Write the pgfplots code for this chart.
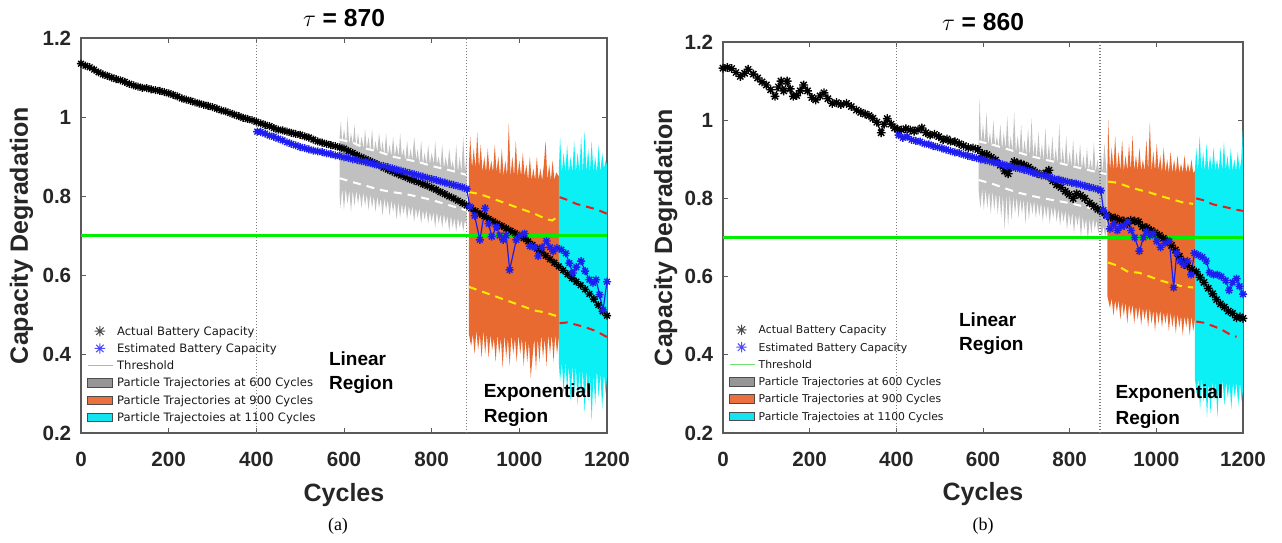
\documentclass[border=0pt]{standalone}
\usepackage{fontspec}
\setmainfont{Liberation Sans}
\newfontfamily\legfont{DejaVu Sans}
\newfontfamily\capfont{Liberation Serif}
\usepackage{pgfplots}
\pgfplotsset{compat=1.18}

\definecolor{bandgray}{RGB}{192,192,192}
\definecolor{bandorange}{RGB}{232,106,48}
\definecolor{bandcyan}{RGB}{10,240,245}
\definecolor{thrgreen}{RGB}{0,238,0}
\definecolor{dashyellow}{RGB}{255,235,0}
\definecolor{dashred}{RGB}{235,25,25}
\definecolor{boxgray}{RGB}{90,90,90}
\definecolor{dotgray}{RGB}{125,125,125}
\definecolor{estblue}{RGB}{30,30,240}
\definecolor{leggray}{RGB}{150,150,150}
\definecolor{legorange}{RGB}{236,112,62}
\definecolor{legcyan}{RGB}{20,228,240}
\definecolor{leggreen}{RGB}{110,225,110}

% MATLAB-like '*' marker
\pgfdeclareplotmark{mstar}{%
  \pgfpathmoveto{\pgfqpoint{-\pgfplotmarksize}{0pt}}\pgfpathlineto{\pgfqpoint{\pgfplotmarksize}{0pt}}%
  \pgfpathmoveto{\pgfqpoint{0pt}{-\pgfplotmarksize}}\pgfpathlineto{\pgfqpoint{0pt}{\pgfplotmarksize}}%
  \pgfpathmoveto{\pgfqpoint{-0.707\pgfplotmarksize}{-0.707\pgfplotmarksize}}\pgfpathlineto{\pgfqpoint{0.707\pgfplotmarksize}{0.707\pgfplotmarksize}}%
  \pgfpathmoveto{\pgfqpoint{-0.707\pgfplotmarksize}{0.707\pgfplotmarksize}}\pgfpathlineto{\pgfqpoint{0.707\pgfplotmarksize}{-0.707\pgfplotmarksize}}%
  \pgfusepathqstroke}

\newcommand{\regfont}{\fontsize{9.5}{11}\bfseries\selectfont}

\pgfplotsset{
  panel/.style={
    scale only axis, clip=false, anchor=south west,
    xmin=0, xmax=1200, ymin=0.2, ymax=1.2,
    xtick={0,200,400,600,800,1000,1200},
    ytick={0.2,0.4,0.6,0.8,1,1.2},
    /pgf/number format/1000 sep={},
    /pgf/number format/assume math mode=true,
    tick label style={font=\fontsize{10.3}{12}\bfseries\selectfont, text=black!85},
    yticklabel style={inner sep=0pt, xshift=-4.7pt},
    xticklabel style={inner sep=0pt, yshift=-9.6pt},
    tick align=inside, major tick length=2.5pt,
    every tick/.style={boxgray, line width=0.5pt},
    axis line style={boxgray, line width=0.6pt},
    xlabel={Cycles}, ylabel={Capacity Degradation},
    label style={font=\fontsize{12.5}{14}\bfseries\selectfont, text=black!85},
    xlabel style={at={(axis description cs:0.5,0)}, anchor=base},
    ylabel style={anchor=base},
    every axis title shift=0pt,
    title style={at={(axis description cs:0.5,1)}, anchor=base, font=\fontsize{12.3}{14}\bfseries\selectfont},
    legend style={draw=none, fill=none, inner sep=0pt, outer sep=0pt, anchor=north west,
      row sep=1.55pt, column sep=0.7pt, text=black!90,
      nodes={inner sep=0.8pt, text height=4.3pt, text depth=1.2pt}},
    legend cell align=left,
  },
  band/.style={draw=none, forget plot},
  dash/.style={line width=1pt, dash pattern=on 4pt off 3pt, forget plot},
  actual/.style={black, line width=0.6pt, mark=mstar, mark options={line width=0.7pt}, forget plot},
  estim/.style={estblue, line width=0.6pt, mark=mstar, mark options={line width=0.7pt}, forget plot},
  vdot/.style={dotgray, line width=0.6pt, dash pattern=on 0.5pt off 1pt, forget plot},
  thr/.style={thrgreen, line width=1.6pt, forget plot},
  legact/.style={legend image code/.code={\draw[black!70, line width=0.5pt, mark=mstar, mark size=2.6pt] plot coordinates {(6.25pt,0.4pt)};}},
  legest/.style={legend image code/.code={\draw[blue!70, line width=0.5pt, mark=mstar, mark size=2.6pt] plot coordinates {(6.25pt,0.4pt)};}},
  legthr/.style={legend image code/.code={\draw[leggreen, line width=0.7pt] (0.5pt,0.4pt) -- (13pt,0.4pt);}},
  leggr/.style={legend image code/.code={\draw[draw=black!70, fill=leggray, line width=0.4pt] (0pt,-1.7pt) rectangle (12.5pt,2.5pt);}},
  legor/.style={legend image code/.code={\draw[draw=black!70, fill=legorange, line width=0.4pt] (0pt,-1.7pt) rectangle (12.5pt,2.5pt);}},
  legcy/.style={legend image code/.code={\draw[draw=black!70, fill=legcyan, line width=0.4pt] (0pt,-1.7pt) rectangle (12.5pt,2.5pt);}},
}

\newcommand{\legendset}{%
  \addlegendimage{legact}
  \addlegendentry{Actual Battery Capacity}
  \addlegendimage{legest}
  \addlegendentry{Estimated Battery Capacity}
  \addlegendimage{legthr}
  \addlegendentry{Threshold}
  \addlegendimage{leggr}
  \addlegendentry{Particle Trajectories at 600 Cycles}
  \addlegendimage{legor}
  \addlegendentry{Particle Trajectories at 900 Cycles}
  \addlegendimage{legcy}
  \addlegendentry{Particle Trajectoies at 1100 Cycles}
}

\begin{document}
\begin{tikzpicture}
\useasboundingbox (0,0) rectangle (641pt,271pt);

% ---------------- (a) tau = 870 ----------------
\begin{axis}[panel, at={(40.5pt,54.5pt)}, width=263pt, height=197.5pt,
  title={$\tau$ = 870}, title style={yshift=6pt},
  xlabel style={yshift=-34pt},
  ylabel style={at={(axis description cs:-0.1008,0.5)}},
  legend style={at={(axis description cs:0.0114,0.2737)}, font=\legfont\fontsize{5.8}{7}\selectfont}]
\legendset

% particle trajectories at 600 cycles
\addplot[band, fill=bandgray] coordinates {
(590,0.95)(593,0.99)(596,0.93)(600,0.97)(605,0.93)(608,1.00)(612,0.93)(616,0.96)(620,0.93)(624,0.98)
(628,0.92)(632,0.96)(636,0.92)(640,0.95)(645,0.92)(648,0.97)(652,0.92)(656,0.95)(660,0.91)(664,0.97)
(668,0.91)(672,0.94)(676,0.91)(680,0.96)(685,0.91)(688,0.94)(692,0.90)(696,0.96)(700,0.90)(704,0.93)
(708,0.90)(712,0.95)(716,0.90)(720,0.93)(725,0.90)(728,0.96)(732,0.90)(736,0.92)(740,0.89)(744,0.94)
(748,0.89)(752,0.92)(756,0.89)(760,0.95)(765,0.89)(768,0.92)(772,0.88)(776,0.94)(780,0.88)(784,0.91)
(788,0.88)(792,0.93)(796,0.88)(800,0.91)(805,0.88)(808,0.94)(812,0.88)(816,0.90)(820,0.87)(824,0.93)
(828,0.87)(832,0.90)(836,0.87)(840,0.92)(845,0.87)(848,0.89)(852,0.86)(856,0.93)(860,0.86)(864,0.90)
(868,0.86)(872,0.95)(876,0.86)(880,0.91)
(880,0.72)(876,0.74)(872,0.71)(868,0.74)(864,0.72)(860,0.745)(856,0.71)(852,0.745)(848,0.72)(844,0.75)
(840,0.71)(836,0.75)(832,0.73)(828,0.755)(824,0.72)(820,0.755)(816,0.73)(812,0.76)(808,0.72)(804,0.76)
(800,0.735)(796,0.76)(792,0.73)(788,0.765)(784,0.74)(780,0.765)(776,0.73)(772,0.77)(768,0.745)(764,0.77)
(760,0.735)(756,0.775)(752,0.75)(748,0.775)(744,0.74)(740,0.78)(736,0.755)(732,0.78)(728,0.745)(724,0.785)
(720,0.74)(716,0.785)(712,0.76)(708,0.79)(704,0.75)(700,0.79)(696,0.765)(692,0.795)(688,0.75)(684,0.795)
(680,0.77)(676,0.80)(672,0.76)(668,0.80)(664,0.77)(660,0.805)(656,0.765)(652,0.805)(648,0.775)(644,0.81)
(640,0.77)(636,0.81)(632,0.78)(628,0.815)(624,0.775)(620,0.815)(616,0.76)(612,0.815)(608,0.78)(604,0.82)
(600,0.765)(596,0.82)(592,0.77)(590,0.80)};
% particle trajectories at 900 cycles
\addplot[band, fill=bandorange] coordinates {
(885,0.88)(888,0.95)(892,0.87)(896,0.92)(900,0.87)(904,0.96)(908,0.87)(912,0.93)(916,0.86)(920,0.90)
(924,0.86)(928,0.92)(932,0.86)(936,0.89)(940,0.86)(944,0.93)(948,0.86)(952,0.90)(956,0.85)(960,0.92)
(964,0.85)(968,0.89)(972,0.85)(976,0.985)(980,0.85)(984,0.90)(988,0.85)(992,0.94)(996,0.85)(1000,0.89)
(1004,0.85)(1008,0.91)(1012,0.85)(1016,0.88)(1020,0.84)(1024,0.90)(1028,0.84)(1032,0.87)(1036,0.84)(1040,0.90)
(1044,0.84)(1048,0.87)(1052,0.84)(1056,0.88)(1060,0.94)(1064,0.84)(1068,0.88)(1072,0.84)(1076,0.89)(1080,0.84)
(1084,0.86)(1090,0.85)
(1090,0.44)(1086,0.40)(1082,0.45)(1078,0.38)(1074,0.45)(1070,0.40)(1066,0.45)(1062,0.37)(1058,0.44)(1054,0.39)
(1050,0.45)(1046,0.38)(1042,0.44)(1038,0.36)(1034,0.44)(1030,0.39)(1026,0.34)(1022,0.43)(1018,0.38)(1014,0.44)
(1010,0.37)(1006,0.44)(1002,0.40)(998,0.45)(994,0.38)(990,0.44)(986,0.40)(982,0.45)(978,0.37)(974,0.44)
(970,0.39)(966,0.45)(962,0.365)(958,0.44)(954,0.40)(950,0.45)(946,0.38)(942,0.44)(938,0.41)(934,0.45)
(930,0.39)(926,0.45)(922,0.40)(918,0.46)(914,0.39)(910,0.45)(906,0.41)(902,0.46)(898,0.40)(894,0.45)
(890,0.42)(885,0.45)};
% particle trajectories at 1100 cycles
\addplot[band, fill=bandcyan] coordinates {
(1090,0.86)(1093,0.95)(1097,0.86)(1101,0.91)(1105,0.86)(1109,0.93)(1113,0.86)(1117,0.90)(1121,0.86)(1125,0.94)
(1129,0.86)(1133,0.91)(1137,0.86)(1141,0.95)(1145,0.86)(1149,0.965)(1153,0.86)(1157,0.92)(1161,0.86)(1165,0.94)
(1169,0.86)(1173,0.90)(1177,0.86)(1181,0.93)(1185,0.86)(1189,0.91)(1193,0.87)(1197,0.89)(1200,0.88)
(1200,0.34)(1197,0.30)(1193,0.35)(1189,0.26)(1185,0.35)(1181,0.29)(1177,0.36)(1173,0.27)(1169,0.35)(1165,0.23)
(1161,0.35)(1157,0.28)(1153,0.36)(1149,0.25)(1145,0.36)(1141,0.29)(1137,0.36)(1133,0.27)(1129,0.37)(1125,0.30)
(1121,0.37)(1117,0.28)(1113,0.37)(1109,0.31)(1105,0.38)(1101,0.30)(1097,0.38)(1093,0.33)(1090,0.38)};

% bounds of the trajectories
\addplot[dash, white] coordinates {(590,0.943)(620,0.935)(650,0.92)(680,0.912)(710,0.90)(740,0.893)(770,0.886)(800,0.876)(830,0.868)(860,0.86)(880,0.853)};
\addplot[dash, white] coordinates {(590,0.845)(620,0.835)(650,0.826)(680,0.816)(710,0.81)(740,0.805)(770,0.798)(800,0.79)(830,0.78)(860,0.77)(880,0.763)};
\addplot[dash, dashyellow] coordinates {(885,0.81)(910,0.805)(935,0.795)(960,0.785)(985,0.775)(1010,0.765)(1035,0.755)(1060,0.742)(1075,0.738)(1088,0.748)};
\addplot[dash, dashyellow] coordinates {(885,0.57)(910,0.56)(935,0.55)(960,0.54)(985,0.53)(1010,0.52)(1035,0.51)(1060,0.505)(1088,0.495)};
\addplot[dash, dashred] coordinates {(1092,0.797)(1110,0.79)(1130,0.78)(1150,0.774)(1170,0.768)(1185,0.762)(1200,0.755)};
\addplot[dash, dashred] coordinates {(1092,0.478)(1110,0.48)(1130,0.474)(1150,0.468)(1170,0.46)(1185,0.452)(1200,0.443)};

\addplot[vdot] coordinates {(400,0.2)(400,1.2)};
\addplot[vdot] coordinates {(880,0.2)(880,1.2)};
\addplot[thr] coordinates {(0,0.7)(1200,0.7)};

% actual battery capacity
\addplot[actual, mark size=2pt] coordinates {
(0,1.135)(10,1.130)(20,1.126)(30,1.120)(40,1.113)(50,1.108)(60,1.104)(70,1.100)(80,1.096)(90,1.093)
(100,1.089)(110,1.084)(120,1.080)(130,1.077)(140,1.074)(150,1.073)(160,1.070)(170,1.068)(180,1.066)(190,1.063)
(200,1.060)(210,1.056)(220,1.052)(230,1.047)(240,1.044)(250,1.041)(260,1.037)(270,1.034)(280,1.031)(290,1.028)
(300,1.025)(310,1.021)(320,1.017)(330,1.014)(340,1.010)(350,1.006)(360,1.002)(370,0.998)(380,0.995)(390,0.992)
(400,0.988)(410,0.984)(420,0.980)(430,0.977)(440,0.972)(450,0.968)(460,0.966)(470,0.963)(480,0.960)(490,0.957)
(500,0.955)(510,0.951)(520,0.948)(530,0.943)(540,0.938)(550,0.935)(560,0.932)(570,0.929)(580,0.926)(590,0.923)
(600,0.920)(610,0.914)(620,0.909)(630,0.903)(640,0.898)(650,0.893)(660,0.888)(670,0.883)(680,0.878)(690,0.872)
(700,0.867)(710,0.862)(720,0.857)(730,0.852)(740,0.848)(750,0.843)(760,0.839)(770,0.835)(780,0.830)(790,0.826)
(800,0.821)(810,0.816)(820,0.810)(830,0.805)(840,0.799)(850,0.794)(860,0.788)(870,0.782)(880,0.776)(890,0.769)
(900,0.762)(910,0.755)(920,0.749)(930,0.742)(940,0.736)(950,0.730)(960,0.724)(970,0.718)(980,0.712)(990,0.706)
(1000,0.700)(1010,0.693)(1020,0.685)(1030,0.676)(1040,0.667)(1050,0.658)(1060,0.649)(1070,0.640)(1080,0.631)(1090,0.622)
(1100,0.612)(1110,0.602)(1120,0.592)(1130,0.583)(1140,0.574)(1150,0.564)(1160,0.552)(1170,0.539)(1180,0.524)(1190,0.508)
(1200,0.497)};
% estimated battery capacity
\addplot[estim, mark size=2pt] coordinates {
(402,0.963)(410,0.962)(420,0.958)(430,0.953)(440,0.950)(450,0.945)(460,0.941)(470,0.936)(480,0.932)(490,0.928)
(500,0.924)(510,0.921)(520,0.918)(530,0.915)(540,0.913)(550,0.911)(560,0.908)(570,0.906)(580,0.903)(590,0.901)
(600,0.898)(610,0.896)(620,0.893)(630,0.891)(640,0.888)(650,0.886)(660,0.883)(670,0.880)(680,0.878)(690,0.876)
(700,0.873)(710,0.870)(720,0.867)(730,0.864)(740,0.861)(750,0.858)(760,0.855)(770,0.852)(780,0.849)(790,0.846)
(800,0.843)(810,0.840)(820,0.837)(830,0.834)(840,0.831)(850,0.828)(860,0.825)(870,0.822)(880,0.818)
(887,0.773)(898,0.750)(910,0.689)(922,0.769)(930,0.730)(937,0.697)(948,0.722)(955,0.700)(963,0.689)(970,0.700)
(978,0.613)(993,0.689)(1001,0.700)(1012,0.705)(1024,0.673)(1035,0.670)(1043,0.648)(1052,0.670)(1062,0.686)(1070,0.670)
(1077,0.660)(1086,0.668)(1096,0.664)(1106,0.655)(1114,0.630)(1122,0.605)(1130,0.620)(1141,0.635)(1150,0.610)(1160,0.588)
(1168,0.580)(1175,0.588)(1183,0.550)(1191,0.512)(1200,0.583)};

\node[anchor=base west, inner sep=0pt, font=\regfont] at (axis cs:565,0.371) {Linear};
\node[anchor=base west, inner sep=0pt, font=\regfont] at (axis cs:565,0.311) {Region};
\node[anchor=base west, inner sep=0pt, font=\regfont] at (axis cs:918,0.290) {Exponential};
\node[anchor=base west, inner sep=0pt, font=\regfont] at (axis cs:918,0.226) {Region};
\end{axis}

% ---------------- (b) tau = 860 ----------------
\begin{axis}[panel, at={(361.5pt,54.5pt)}, width=260pt, height=195.5pt,
  title={$\tau$ = 860}, title style={yshift=5.8pt},
  xlabel style={yshift=-33.5pt},
  ylabel style={at={(axis description cs:-0.098,0.5)}},
  legend style={at={(axis description cs:0.0108,0.2798)}, font=\legfont\fontsize{5.4}{7}\selectfont}]
\legendset

\addplot[band, fill=bandgray] coordinates {
(590,0.94)(592,1.055)(596,0.94)(600,0.99)(604,0.94)(608,1.02)(612,0.935)(616,0.97)(620,0.93)(624,1.00)
(628,0.93)(632,0.96)(636,0.93)(640,0.99)(644,0.925)(648,0.97)(652,0.925)(656,1.01)(660,0.92)(664,0.96)
(668,0.92)(672,1.02)(676,0.915)(680,0.96)(684,0.915)(688,0.99)(692,0.91)(696,0.95)(700,0.91)(704,0.98)
(708,0.905)(712,1.005)(716,0.905)(720,0.95)(724,0.90)(728,0.97)(732,0.90)(736,0.94)(740,0.895)(744,0.98)
(748,0.895)(752,0.94)(756,0.89)(760,0.96)(764,0.89)(768,0.93)(772,0.885)(776,0.99)(780,0.885)(784,0.93)
(788,0.88)(792,0.96)(796,0.88)(800,0.92)(804,0.88)(808,0.95)(812,0.875)(816,0.92)(820,0.875)(824,0.94)
(828,0.875)(832,0.91)(836,0.87)(840,0.93)(844,0.87)(848,0.90)(852,0.87)(856,0.945)(860,0.865)(864,0.90)
(868,0.865)(872,0.92)(876,0.865)(880,0.94)(885,0.87)
(885,0.72)(882,0.70)(878,0.73)(874,0.70)(870,0.74)(866,0.71)(862,0.745)(858,0.72)(854,0.75)(850,0.71)
(846,0.75)(842,0.69)(838,0.75)(834,0.72)(830,0.755)(826,0.70)(822,0.76)(818,0.73)(814,0.76)(810,0.71)
(806,0.765)(802,0.73)(798,0.765)(794,0.72)(790,0.77)(786,0.74)(782,0.77)(778,0.73)(774,0.775)(770,0.74)
(766,0.78)(762,0.75)(758,0.78)(754,0.735)(750,0.785)(746,0.75)(742,0.785)(738,0.74)(734,0.79)(730,0.755)
(726,0.79)(722,0.75)(718,0.795)(714,0.76)(710,0.795)(706,0.745)(702,0.80)(698,0.735)(694,0.80)(690,0.76)
(686,0.80)(682,0.75)(678,0.805)(674,0.76)(670,0.805)(666,0.745)(662,0.81)(658,0.73)(654,0.81)(650,0.72)
(646,0.81)(642,0.75)(638,0.815)(634,0.76)(630,0.815)(626,0.77)(622,0.82)(618,0.76)(614,0.82)(610,0.775)
(606,0.825)(602,0.77)(598,0.825)(594,0.775)(590,0.82)};
\addplot[band, fill=bandorange] coordinates {
(887,0.87)(889,1.00)(893,0.87)(897,0.93)(901,0.87)(905,0.96)(909,0.87)(913,0.92)(917,0.87)(921,0.95)
(925,0.87)(929,0.91)(933,0.87)(937,0.94)(941,0.87)(945,0.96)(949,0.87)(953,0.91)(957,0.87)(961,0.93)
(965,0.87)(969,0.90)(973,0.87)(977,0.95)(981,0.87)(985,0.995)(989,0.87)(993,0.92)(997,0.87)(1001,0.94)
(1005,0.87)(1009,0.91)(1013,0.865)(1017,0.93)(1021,0.865)(1025,0.90)(1029,0.865)(1033,0.92)(1037,0.865)(1041,0.90)
(1045,0.865)(1049,0.91)(1053,0.865)(1057,0.89)(1061,0.865)(1065,0.91)(1069,0.865)(1073,0.89)(1077,0.865)(1081,0.90)
(1085,0.865)(1089,0.87)
(1089,0.49)(1085,0.46)(1081,0.50)(1077,0.45)(1073,0.50)(1069,0.47)(1065,0.50)(1061,0.45)(1057,0.50)(1053,0.47)
(1049,0.505)(1045,0.455)(1041,0.505)(1037,0.47)(1033,0.51)(1029,0.46)(1025,0.51)(1021,0.48)(1017,0.51)(1013,0.47)
(1009,0.515)(1005,0.48)(1001,0.515)(997,0.46)(993,0.515)(989,0.48)(985,0.52)(981,0.47)(977,0.52)(973,0.49)
(969,0.52)(965,0.475)(961,0.525)(957,0.49)(953,0.525)(949,0.48)(945,0.53)(941,0.50)(937,0.53)(933,0.48)
(929,0.535)(925,0.50)(921,0.535)(917,0.49)(913,0.54)(909,0.51)(905,0.54)(901,0.50)(897,0.545)(893,0.52)
(887,0.55)};
\addplot[band, fill=bandcyan] coordinates {
(1089,0.87)(1092,0.93)(1096,0.87)(1100,0.96)(1104,0.87)(1108,0.92)(1112,0.87)(1116,0.94)(1120,0.87)(1124,0.91)
(1128,0.87)(1132,0.93)(1136,0.87)(1140,0.90)(1144,0.87)(1148,0.93)(1152,0.87)(1156,0.945)(1160,0.87)(1164,0.91)
(1168,0.87)(1172,0.93)(1176,0.87)(1180,0.90)(1184,0.87)(1188,0.92)(1192,0.87)(1196,0.90)(1199,0.975)(1200,0.87)
(1200,0.31)(1197,0.28)(1193,0.33)(1189,0.27)(1185,0.33)(1181,0.29)(1177,0.33)(1173,0.26)(1169,0.33)(1165,0.29)
(1161,0.33)(1157,0.27)(1153,0.335)(1149,0.29)(1145,0.33)(1141,0.24)(1137,0.33)(1133,0.28)(1129,0.335)(1125,0.25)
(1121,0.33)(1117,0.24)(1113,0.335)(1109,0.28)(1105,0.34)(1101,0.26)(1097,0.34)(1093,0.30)(1089,0.34)};

\addplot[dash, white] coordinates {(590,0.946)(620,0.938)(650,0.928)(680,0.918)(710,0.908)(740,0.90)(770,0.892)(800,0.884)(830,0.876)(860,0.868)(885,0.862)};
\addplot[dash, white] coordinates {(590,0.847)(620,0.838)(650,0.826)(680,0.815)(710,0.807)(740,0.80)(770,0.794)(800,0.788)(830,0.78)(860,0.772)(885,0.763)};
\addplot[dash, dashyellow] coordinates {(889,0.843)(910,0.84)(935,0.83)(960,0.822)(985,0.815)(1010,0.806)(1035,0.798)(1060,0.79)(1085,0.786)};
\addplot[dash, dashyellow] coordinates {(889,0.636)(910,0.628)(935,0.612)(960,0.61)(985,0.60)(1010,0.59)(1035,0.582)(1060,0.575)(1085,0.572)};
\addplot[dash, dashred] coordinates {(1092,0.80)(1110,0.795)(1130,0.785)(1150,0.78)(1170,0.775)(1185,0.771)(1200,0.768)};
\addplot[dash, dashred] coordinates {(1092,0.485)(1110,0.482)(1130,0.474)(1150,0.465)(1170,0.452)(1185,0.446)};

\addplot[vdot] coordinates {(400,0.2)(400,1.2)};
\addplot[vdot] coordinates {(870,0.2)(870,1.2)};
\addplot[thr] coordinates {(0,0.7)(1200,0.7)};

\addplot[actual, mark size=2.2pt] coordinates {
(0,1.133)(10,1.135)(20,1.132)(30,1.122)(40,1.112)(50,1.120)(58,1.130)(70,1.118)(80,1.108)(90,1.098)
(100,1.090)(110,1.078)(120,1.061)(128,1.085)(134,1.100)(140,1.075)(148,1.100)(155,1.080)(162,1.061)(170,1.063)
(178,1.075)(186,1.090)(195,1.075)(205,1.058)(214,1.052)(224,1.062)(233,1.070)(242,1.055)(252,1.043)(262,1.045)
(272,1.040)(285,1.043)(296,1.035)(308,1.026)(318,1.020)(328,1.016)(337,1.012)(346,1.005)(355,0.995)(365,0.968)
(372,0.990)(379,1.004)(388,0.990)(396,0.980)(403,0.977)(412,0.975)(422,0.978)(432,0.975)(441,0.972)(450,0.975)
(459,0.980)(468,0.968)(478,0.962)(488,0.964)(498,0.958)(508,0.950)(517,0.952)(525,0.946)(535,0.945)(545,0.940)
(555,0.935)(566,0.930)(577,0.929)(588,0.925)(598,0.915)(609,0.912)(619,0.905)(629,0.898)(640,0.885)(650,0.870)
(658,0.863)(665,0.880)(672,0.894)(680,0.890)(688,0.888)(695,0.885)(705,0.880)(715,0.872)(725,0.865)(735,0.860)
(745,0.865)(752,0.872)(761,0.845)(770,0.835)(780,0.828)(790,0.818)(799,0.810)(808,0.800)(816,0.812)(825,0.808)
(835,0.800)(846,0.788)(856,0.780)(865,0.772)(875,0.766)(885,0.758)(895,0.752)(905,0.750)(915,0.745)(925,0.742)
(933,0.736)(941,0.744)(950,0.742)(959,0.740)(968,0.728)(978,0.725)(988,0.718)(997,0.712)(1007,0.705)(1016,0.698)
(1025,0.691)(1035,0.680)(1044,0.668)(1053,0.652)(1063,0.638)(1072,0.628)(1082,0.618)(1092,0.612)(1101,0.598)(1110,0.585)
(1120,0.570)(1130,0.556)(1139,0.541)(1148,0.530)(1157,0.522)(1166,0.512)(1176,0.506)(1185,0.495)(1193,0.497)(1200,0.493)};
\addplot[estim, mark size=2pt] coordinates {
(405,0.962)(415,0.955)(425,0.958)(435,0.950)(445,0.947)(455,0.945)(465,0.940)(475,0.938)(485,0.934)(495,0.931)
(505,0.928)(515,0.925)(525,0.921)(535,0.918)(545,0.916)(555,0.912)(565,0.909)(575,0.906)(585,0.903)(595,0.900)
(605,0.898)(615,0.895)(625,0.892)(635,0.890)(645,0.887)(655,0.884)(665,0.882)(675,0.878)(685,0.876)(695,0.873)
(705,0.870)(715,0.866)(725,0.863)(735,0.860)(745,0.857)(755,0.854)(765,0.850)(775,0.848)(785,0.845)(795,0.842)
(805,0.840)(815,0.838)(825,0.835)(835,0.832)(845,0.829)(855,0.826)(865,0.823)(872,0.820)
(878,0.770)(885,0.755)(893,0.722)(902,0.735)(910,0.718)(918,0.728)(926,0.730)(934,0.740)(942,0.718)(950,0.700)
(961,0.665)(970,0.700)(977,0.715)(985,0.705)(993,0.710)(1001,0.690)(1010,0.675)(1020,0.685)(1030,0.690)(1040,0.572)
(1047,0.660)(1055,0.640)(1063,0.630)(1072,0.640)(1080,0.605)(1088,0.660)(1097,0.655)(1106,0.650)(1115,0.640)(1123,0.610)
(1132,0.605)(1141,0.605)(1150,0.600)(1160,0.590)(1168,0.565)(1176,0.585)(1185,0.595)(1192,0.575)(1200,0.555)};

\node[anchor=base west, inner sep=0pt, font=\regfont] at (axis cs:544,0.473) {Linear};
\node[anchor=base west, inner sep=0pt, font=\regfont] at (axis cs:544,0.411) {Region};
\node[anchor=base west, inner sep=0pt, font=\regfont] at (axis cs:905,0.288) {Exponential};
\node[anchor=base west, inner sep=0pt, font=\regfont] at (axis cs:905,0.223) {Region};
\end{axis}

\node[anchor=base, inner sep=0pt, font=\capfont\fontsize{9}{10}\selectfont] at (169pt,6pt) {(a)};
\node[anchor=base, inner sep=0pt, font=\capfont\fontsize{9}{10}\selectfont] at (491.5pt,6pt) {(b)};
\end{tikzpicture}
\end{document}
